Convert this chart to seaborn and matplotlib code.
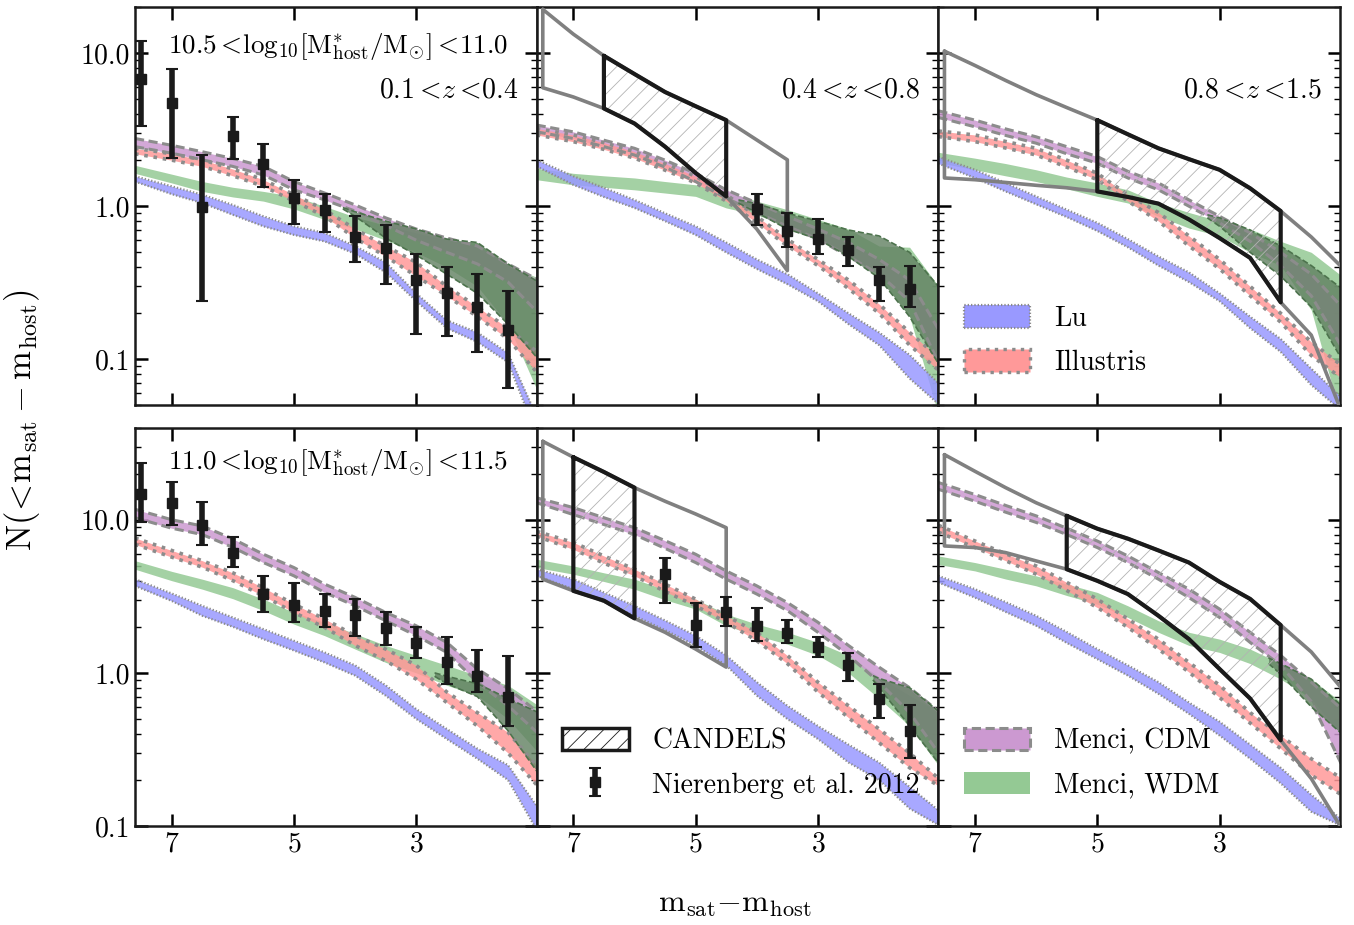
import numpy as np
import pandas as pd
import matplotlib
matplotlib.use('Agg')
import matplotlib.pyplot as plt
from matplotlib.patches import Patch
from matplotlib.ticker import FuncFormatter, NullFormatter
import seaborn as sns

# common grid of m_sat - m_host for the model bands
x_grid = [7.6, 7.0, 6.5, 6.0, 5.5, 5.0, 4.5, 4.0, 3.5, 3.0, 2.5, 2.0, 1.5, 1.0]

# ---- top row: 10.5 < log M* < 11.0 ----
# a: 0.1<z<0.4
lu_hi_a = [1.57, 1.35, 1.19, 1.02, 0.86, 0.74, 0.67, 0.55, 0.43, 0.27, 0.18, 0.15, 0.11, 0.04]
lu_lo_a = [1.45, 1.20, 1.05, 0.88, 0.74, 0.65, 0.59, 0.49, 0.37, 0.24, 0.16, 0.13, 0.096, 0.03]
ill_hi_a = [2.39, 2.20, 2.01, 1.75, 1.49, 1.19, 0.95, 0.71, 0.55, 0.43, 0.30, 0.22, 0.16, 0.11]
ill_lo_a = [2.20, 2.00, 1.82, 1.58, 1.35, 1.08, 0.86, 0.62, 0.47, 0.35, 0.26, 0.19, 0.136, 0.08]
cdm_hi_a = [2.77, 2.50, 2.27, 2.05, 1.82, 1.45, 1.22, 1.02, 0.84, 0.71, 0.62, 0.55, 0.42, 0.33]
cdm_lo_a = [2.45, 2.22, 2.01, 1.82, 1.60, 1.28, 1.10, 0.93, 0.75, 0.60, 0.50, 0.42, 0.32, 0.20]
wdm_hi_a = [1.85, 1.62, 1.45, 1.33, 1.25, 1.16, 1.00, 0.85, 0.75, 0.67, 0.60, 0.58, 0.41, 0.34]
wdm_lo_a = [1.64, 1.42, 1.25, 1.15, 1.08, 0.96, 0.82, 0.71, 0.60, 0.50, 0.40, 0.30, 0.17, 0.06]
dark_x_a = [4.2, 4.0, 3.5, 3.0, 2.5, 2.0, 1.5, 1.0]
dark_hi_a = [0.98, 0.92, 0.80, 0.71, 0.61, 0.58, 0.42, 0.32]
dark_lo_a = [0.96, 0.86, 0.62, 0.48, 0.36, 0.27, 0.17, 0.10]
nier_x_a = [7.5, 7.0, 6.5, 6.0, 5.5, 5.0, 4.5, 4.0, 3.5, 3.0, 2.5, 2.0, 1.5]
nier_y_a = [6.8, 4.73, 0.99, 2.87, 1.89, 1.13, 0.94, 0.63, 0.53, 0.33, 0.27, 0.22, 0.156]
nier_hi_a = [12.0, 7.9, 2.16, 3.84, 2.54, 1.49, 1.21, 0.87, 0.75, 0.49, 0.40, 0.36, 0.28]
nier_lo_a = [3.33, 2.06, 0.24, 2.03, 1.33, 0.77, 0.68, 0.43, 0.31, 0.146, 0.142, 0.112, 0.065]

# b: 0.4<z<0.8
lu_hi_b = [2.01, 1.57, 1.32, 1.10, 0.90, 0.74, 0.58, 0.45, 0.36, 0.27, 0.20, 0.15, 0.107, 0.068]
lu_lo_b = [1.82, 1.38, 1.15, 0.975, 0.80, 0.65, 0.50, 0.39, 0.31, 0.24, 0.17, 0.124, 0.075, 0.05]
ill_hi_b = [3.22, 2.92, 2.60, 2.27, 1.90, 1.57, 1.19, 0.86, 0.61, 0.45, 0.33, 0.23, 0.15, 0.101]
ill_lo_b = [2.92, 2.64, 2.35, 2.06, 1.72, 1.42, 1.08, 0.78, 0.55, 0.41, 0.29, 0.20, 0.124, 0.083]
cdm_hi_b = [3.39, 3.06, 2.70, 2.39, 2.00, 1.64, 1.28, 1.05, 0.86, 0.71, 0.58, 0.45, 0.33, 0.15]
cdm_lo_b = [3.06, 2.77, 2.45, 2.16, 1.80, 1.45, 1.13, 0.91, 0.74, 0.61, 0.47, 0.36, 0.24, 0.09]
wdm_hi_b = [1.77, 1.64, 1.58, 1.53, 1.45, 1.38, 1.25, 1.08, 0.95, 0.82, 0.71, 0.55, 0.54, 0.29]
wdm_lo_b = [1.49, 1.38, 1.33, 1.28, 1.22, 1.16, 0.975, 0.88, 0.74, 0.61, 0.50, 0.35, 0.19, 0.04]
dark_x_b = [4.3, 4.0, 3.5, 3.0, 2.5, 2.0, 1.5, 1.0]
dark_hi_b = [1.10, 1.04, 0.90, 0.80, 0.70, 0.64, 0.50, 0.29]
dark_lo_b = [1.05, 0.91, 0.71, 0.61, 0.47, 0.34, 0.19, 0.09]
nier_x_b = [4.0, 3.5, 3.0, 2.5, 2.0, 1.5]
nier_y_b = [0.96, 0.69, 0.61, 0.52, 0.33, 0.29]
nier_hi_b = [1.20, 0.91, 0.82, 0.63, 0.40, 0.41]
nier_lo_b = [0.75, 0.54, 0.49, 0.41, 0.24, 0.22]
cand_x_b = [7.5, 7.0, 6.5, 6.0, 5.5, 5.0, 4.5, 4.0, 3.5]
cand_hi_b = [19.3, 13.3, 9.6, 7.3, 5.57, 4.5, 3.65, 2.71, 2.01]
cand_lo_b = [5.94, 5.17, 4.35, 3.47, 2.45, 1.65, 1.16, 0.71, 0.38]
cand_hatch_b = (6.5, 4.5)

# c: 0.8<z<1.5
lu_hi_c = [2.10, 1.73, 1.42, 1.16, 0.95, 0.78, 0.61, 0.47, 0.37, 0.27, 0.19, 0.136, 0.087, 0.056]
lu_lo_c = [1.90, 1.53, 1.25, 1.03, 0.85, 0.69, 0.54, 0.41, 0.32, 0.24, 0.16, 0.112, 0.068, 0.046]
ill_hi_c = [3.10, 2.92, 2.65, 2.39, 2.00, 1.64, 1.19, 0.91, 0.64, 0.45, 0.30, 0.20, 0.13, 0.091]
ill_lo_c = [2.85, 2.64, 2.40, 2.16, 1.80, 1.49, 1.08, 0.80, 0.55, 0.39, 0.26, 0.175, 0.106, 0.075]
cdm_hi_c = [4.20, 3.65, 3.20, 2.84, 2.45, 2.11, 1.69, 1.42, 1.10, 0.86, 0.67, 0.50, 0.36, 0.22]
cdm_lo_c = [3.80, 3.30, 2.90, 2.58, 2.20, 1.91, 1.53, 1.28, 1.00, 0.78, 0.59, 0.41, 0.26, 0.12]
wdm_hi_c = [2.25, 2.06, 1.90, 1.73, 1.55, 1.42, 1.28, 1.05, 0.91, 0.80, 0.71, 0.59, 0.50, 0.35]
wdm_lo_c = [1.93, 1.73, 1.58, 1.45, 1.30, 1.16, 1.05, 0.86, 0.72, 0.64, 0.50, 0.41, 0.21, 0.04]
dark_x_c = [3.2, 3.0, 2.5, 2.0, 1.5, 1.0]
dark_hi_c = [0.88, 0.84, 0.70, 0.55, 0.41, 0.29]
dark_lo_c = [0.84, 0.74, 0.50, 0.35, 0.22, 0.10]
cand_x_c = [7.5, 7.0, 6.5, 6.0, 5.5, 5.0, 4.5, 4.0, 3.5, 3.0, 2.5, 2.0, 1.5, 1.0]
cand_hi_c = [10.3, 8.3, 6.63, 5.35, 4.41, 3.65, 2.95, 2.39, 2.03, 1.73, 1.31, 0.93, 0.63, 0.40]
cand_lo_c = [1.53, 1.49, 1.43, 1.37, 1.32, 1.25, 1.15, 1.04, 0.82, 0.62, 0.46, 0.236, 0.144, 0.045]
cand_hatch_c = (5.0, 2.0)

# ---- bottom row: 11.0 < log M* < 11.5 ----
# d: 0.1<z<0.4
lu_hi_d = [4.09, 3.30, 2.74, 2.30, 1.93, 1.62, 1.36, 1.12, 0.83, 0.58, 0.43, 0.32, 0.25, 0.13]
lu_lo_d = [3.70, 2.95, 2.36, 2.00, 1.66, 1.40, 1.17, 0.96, 0.71, 0.50, 0.37, 0.275, 0.20, 0.09]
ill_hi_d = [7.6, 6.3, 5.4, 4.5, 3.6, 2.81, 2.25, 1.75, 1.43, 1.12, 0.75, 0.55, 0.41, 0.24]
ill_lo_d = [6.9, 5.7, 4.9, 4.0, 3.18, 2.48, 1.98, 1.51, 1.20, 0.91, 0.64, 0.45, 0.30, 0.18]
cdm_hi_d = [11.7, 10.0, 9.1, 7.5, 5.95, 4.87, 3.80, 3.11, 2.48, 2.03, 1.58, 1.06, 0.79, 0.55]
cdm_lo_d = [10.3, 8.8, 8.0, 6.6, 5.25, 4.30, 3.35, 2.74, 2.19, 1.75, 1.36, 0.87, 0.61, 0.40]
wdm_hi_d = [5.4, 4.6, 4.09, 3.6, 3.03, 2.48, 2.14, 1.80, 1.51, 1.30, 1.12, 0.96, 0.83, 0.61]
wdm_lo_d = [4.75, 4.0, 3.52, 3.05, 2.55, 2.08, 1.75, 1.43, 1.17, 1.00, 0.83, 0.71, 0.50, 0.30]
dark_x_d = [2.7, 2.5, 2.0, 1.5, 1.0]
dark_hi_d = [1.00, 0.95, 0.85, 0.68, 0.55]
dark_lo_d = [0.95, 0.85, 0.70, 0.42, 0.22]
nier_x_d = [7.5, 7.0, 6.5, 6.0, 5.5, 5.0, 4.5, 4.0, 3.5, 3.0, 2.5, 2.0, 1.5]
nier_y_d = [14.8, 12.8, 9.3, 6.04, 3.27, 2.77, 2.55, 2.38, 1.95, 1.57, 1.17, 0.96, 0.70]
nier_hi_d = [23.5, 17.6, 13.0, 7.7, 4.3, 3.85, 3.27, 3.03, 2.48, 1.98, 1.71, 1.41, 1.28]
nier_lo_d = [9.66, 9.2, 6.8, 4.92, 2.51, 2.14, 1.98, 1.73, 1.52, 1.25, 0.84, 0.75, 0.45]

# e: 0.4<z<0.8
lu_hi_e = [4.75, 4.09, 3.35, 2.74, 2.20, 1.75, 1.30, 0.87, 0.61, 0.45, 0.34, 0.26, 0.18, 0.124]
lu_lo_e = [4.30, 3.52, 2.90, 2.36, 1.90, 1.51, 1.12, 0.71, 0.50, 0.37, 0.26, 0.20, 0.13, 0.10]
ill_hi_e = [8.4, 7.1, 5.8, 4.75, 3.8, 3.03, 2.36, 1.84, 1.30, 0.87, 0.61, 0.43, 0.30, 0.20]
ill_lo_e = [7.8, 6.4, 5.2, 4.3, 3.4, 2.74, 2.14, 1.62, 1.15, 0.75, 0.51, 0.35, 0.24, 0.18]
cdm_hi_e = [13.9, 12.0, 10.3, 8.87, 7.3, 5.95, 4.63, 3.70, 2.88, 2.14, 1.51, 1.09, 0.80, 0.55]
cdm_lo_e = [12.9, 10.8, 9.3, 8.0, 6.5, 5.25, 4.09, 3.27, 2.55, 1.84, 1.30, 0.87, 0.55, 0.29]
wdm_hi_e = [5.52, 4.99, 4.5, 4.09, 3.5, 3.03, 2.42, 2.08, 1.84, 1.58, 1.30, 0.94, 0.71, 0.55]
wdm_lo_e = [4.87, 4.41, 3.95, 3.52, 3.0, 2.61, 2.03, 1.75, 1.54, 1.30, 1.00, 0.68, 0.45, 0.24]
dark_x_e = [2.1, 2.0, 1.5, 1.0]
dark_hi_e = [0.96, 0.92, 0.80, 0.55]
dark_lo_e = [0.90, 0.80, 0.45, 0.25]
nier_x_e = [5.5, 5.0, 4.5, 4.0, 3.5, 3.0, 2.5, 2.0, 1.5]
nier_y_e = [4.41, 2.05, 2.51, 2.01, 1.82, 1.47, 1.12, 0.68, 0.42]
nier_hi_e = [5.66, 2.84, 3.15, 2.64, 2.22, 1.71, 1.34, 0.84, 0.62]
nier_lo_e = [2.86, 1.47, 2.03, 1.62, 1.57, 1.26, 0.88, 0.51, 0.28]
cand_x_e = [7.5, 7.0, 6.5, 6.0, 5.5, 5.0, 4.5]
cand_hi_e = [32.5, 25.6, 20.5, 16.2, 13.2, 10.9, 8.87]
cand_lo_e = [4.09, 3.43, 2.96, 2.27, 1.84, 1.43, 1.09]
cand_hatch_e = (7.0, 6.0)

# f: 0.8<z<1.5
lu_hi_f = [4.30, 3.52, 2.90, 2.36, 1.85, 1.43, 1.12, 0.87, 0.64, 0.48, 0.34, 0.24, 0.16, 0.11]
lu_lo_f = [3.90, 3.10, 2.50, 2.03, 1.57, 1.23, 0.96, 0.73, 0.54, 0.39, 0.275, 0.19, 0.124, 0.10]
ill_hi_f = [9.2, 7.26, 6.0, 4.99, 3.9, 3.03, 2.25, 1.66, 1.17, 0.83, 0.55, 0.39, 0.275, 0.204]
ill_lo_f = [8.3, 6.58, 5.4, 4.41, 3.45, 2.67, 1.98, 1.43, 1.01, 0.69, 0.47, 0.32, 0.215, 0.159]
cdm_hi_f = [17.5, 14.6, 12.4, 10.6, 8.8, 7.26, 5.8, 4.52, 3.52, 2.61, 1.84, 1.30, 0.87, 0.58]
cdm_lo_f = [15.8, 13.2, 11.2, 9.6, 8.0, 6.58, 5.25, 4.09, 3.10, 2.30, 1.58, 1.12, 0.65, 0.25]
wdm_hi_f = [5.8, 5.25, 4.75, 4.3, 3.8, 3.35, 2.74, 2.19, 1.84, 1.66, 1.43, 1.15, 0.91, 0.64]
wdm_lo_f = [5.1, 4.63, 4.1, 3.7, 3.2, 2.81, 2.30, 1.84, 1.51, 1.36, 1.15, 0.91, 0.68, 0.39]
dark_x_f = [2.2, 2.0, 1.5, 1.0]
dark_hi_f = [1.25, 1.15, 0.91, 0.61]
dark_lo_f = [1.15, 0.98, 0.60, 0.40]
cand_x_f = [7.5, 7.0, 6.5, 6.0, 5.5, 5.0, 4.5, 4.0, 3.5, 3.0, 2.5, 2.0, 1.5, 1.0]
cand_hi_f = [26.6, 20.7, 16.2, 12.9, 10.6, 8.74, 7.52, 6.3, 5.25, 3.93, 3.04, 2.05, 1.37, 0.79]
cand_lo_f = [6.74, 6.58, 6.1, 5.38, 4.75, 3.99, 3.27, 2.36, 1.66, 1.06, 0.68, 0.363, 0.204, 0.096]
cand_hatch_f = (5.5, 2.0)

z_labels = [r'$0.1<\!z<\!0.4$', r'$0.4<\!z<\!0.8$', r'$0.8<\!z<\!1.5$']
mass_labels = [r'$10.5<\!\mathrm{log}_{10}[\mathrm{M}^{*}_{\mathrm{host}}/\mathrm{M}_{\odot}]<\!11.0$',
               r'$11.0<\!\mathrm{log}_{10}[\mathrm{M}^{*}_{\mathrm{host}}/\mathrm{M}_{\odot}]<\!11.5$']

sns.set_theme(style='ticks')
plt.rcParams['font.family'] = ['cmr10', 'DejaVu Serif']
plt.rcParams['mathtext.fontset'] = 'cm'
plt.rcParams['axes.formatter.use_mathtext'] = True
plt.rcParams['hatch.linewidth'] = 0.6
for key in ['text.color', 'axes.labelcolor', 'xtick.color', 'ytick.color', 'axes.edgecolor']:
    plt.rcParams[key] = 'black'

c_lu = (0.6, 0.6, 1.0)
c_ill = (1.0, 0.6, 0.6)
c_cdm = (0.8, 0.6, 0.82)
c_wdm = (0.58, 0.79, 0.58)
c_dark = (0.38, 0.5, 0.38)
edge = '0.55'
ls_lu = (0, (0.6, 0.9))
ls_ill = (0, (1, 1.6))
ls_cdm = (0, (3, 1.5))

panels = [
    dict(lu=(lu_hi_a, lu_lo_a), ill=(ill_hi_a, ill_lo_a), cdm=(cdm_hi_a, cdm_lo_a),
         wdm=(wdm_hi_a, wdm_lo_a), dark=(dark_x_a, dark_hi_a, dark_lo_a),
         nier=(nier_x_a, nier_y_a, nier_hi_a, nier_lo_a), cand=None),
    dict(lu=(lu_hi_b, lu_lo_b), ill=(ill_hi_b, ill_lo_b), cdm=(cdm_hi_b, cdm_lo_b),
         wdm=(wdm_hi_b, wdm_lo_b), dark=(dark_x_b, dark_hi_b, dark_lo_b),
         nier=(nier_x_b, nier_y_b, nier_hi_b, nier_lo_b),
         cand=(cand_x_b, cand_hi_b, cand_lo_b, cand_hatch_b)),
    dict(lu=(lu_hi_c, lu_lo_c), ill=(ill_hi_c, ill_lo_c), cdm=(cdm_hi_c, cdm_lo_c),
         wdm=(wdm_hi_c, wdm_lo_c), dark=(dark_x_c, dark_hi_c, dark_lo_c),
         nier=None, cand=(cand_x_c, cand_hi_c, cand_lo_c, cand_hatch_c)),
    dict(lu=(lu_hi_d, lu_lo_d), ill=(ill_hi_d, ill_lo_d), cdm=(cdm_hi_d, cdm_lo_d),
         wdm=(wdm_hi_d, wdm_lo_d), dark=(dark_x_d, dark_hi_d, dark_lo_d),
         nier=(nier_x_d, nier_y_d, nier_hi_d, nier_lo_d), cand=None),
    dict(lu=(lu_hi_e, lu_lo_e), ill=(ill_hi_e, ill_lo_e), cdm=(cdm_hi_e, cdm_lo_e),
         wdm=(wdm_hi_e, wdm_lo_e), dark=(dark_x_e, dark_hi_e, dark_lo_e),
         nier=(nier_x_e, nier_y_e, nier_hi_e, nier_lo_e),
         cand=(cand_x_e, cand_hi_e, cand_lo_e, cand_hatch_e)),
    dict(lu=(lu_hi_f, lu_lo_f), ill=(ill_hi_f, ill_lo_f), cdm=(cdm_hi_f, cdm_lo_f),
         wdm=(wdm_hi_f, wdm_lo_f), dark=(dark_x_f, dark_hi_f, dark_lo_f),
         nier=None, cand=(cand_x_f, cand_hi_f, cand_lo_f, cand_hatch_f)),
]


def band(ax, hi, lo, color, ls=None, lw=1.5):
    ax.fill_between(x_grid, lo, hi, color=color, lw=0, alpha=0.85)
    if ls is not None:
        ax.plot(x_grid, hi, color=edge, ls=ls, lw=lw)
        ax.plot(x_grid, lo, color=edge, ls=ls, lw=lw)


def candels(ax, x, hi, lo, rng):
    x = np.asarray(x)
    hi = np.asarray(hi)
    lo = np.asarray(lo)
    ax.plot(np.r_[x, x[::-1], x[:1]], np.r_[hi, lo[::-1], hi[:1]], color='0.5', lw=2.6, zorder=5)
    m = (x <= rng[0]) & (x >= rng[1])
    xs, h, l = x[m], hi[m], lo[m]
    ax.fill_between(xs, l, h, facecolor='none', edgecolor='0.7', hatch='//', lw=0, zorder=5)
    ax.plot(np.r_[xs, xs[::-1], xs[:1]], np.r_[h, l[::-1], h[:1]], color='k', lw=3, zorder=6)


fig, axes = plt.subplots(2, 3, figsize=(13.54, 9.25), dpi=100, sharex=True, sharey='row')
fig.subplots_adjust(left=135 / 1354, right=1340 / 1354, top=1 - 7 / 925, bottom=1 - 826 / 925,
                    wspace=0, hspace=22 / 398)

nier_handle = None
for i, (ax, p) in enumerate(zip(axes.flat, panels)):
    band(ax, *p['wdm'], c_wdm)
    band(ax, *p['cdm'], c_cdm, ls_cdm, 2.2)
    band(ax, *p['ill'], c_ill, ls_ill, 2.6)
    band(ax, *p['lu'], c_lu, ls_lu, 1.6)
    dx, dh, dl = p['dark']
    ax.fill_between(dx, dl, dh, color=c_dark, lw=0, alpha=0.8)
    ax.plot(dx, dh, color=(0.3, 0.45, 0.3), ls='--', lw=1.2)
    ax.plot(dx, dl, color=(0.3, 0.45, 0.3), ls='--', lw=1.2)
    if p['cand'] is not None:
        candels(ax, *p['cand'])
    if p['nier'] is not None:
        nx, ny, nh, nl = (np.asarray(v) for v in p['nier'])
        eb = ax.errorbar(nx, ny, yerr=[ny - nl, nh - ny], fmt='s', color='k', ms=7.5,
                         elinewidth=4, capsize=4, capthick=1.5, zorder=8)
        if i == 4:
            nier_handle = eb

    ax.set_yscale('log')
    ax.set_xlim(7.6, 1.03)
    ax.set_xticks([7, 5, 3])
    ax.tick_params(which='both', direction='in', top=True, right=True, labelsize=20)
    ax.tick_params(which='major', length=9, width=1.8)
    ax.tick_params(which='minor', length=4.5, width=1.0)
    for s in ax.spines.values():
        s.set_linewidth(1.8)
        s.set_color('k')
    ax.yaxis.set_major_formatter(FuncFormatter(lambda v, pos: '%.1f' % v))
    ax.yaxis.set_minor_formatter(NullFormatter())
    if i < 3:
        ax.text(0.955, 0.79, z_labels[i], transform=ax.transAxes, ha='right', va='center',
                fontsize=20)

axes[0, 0].set_ylim(0.05, 20)
axes[1, 0].set_ylim(0.1, 40)
axes[0, 0].text(0.082, 0.9, mass_labels[0], transform=axes[0, 0].transAxes, fontsize=19.5,
                ha='left', va='center')
axes[1, 0].text(0.082, 0.912, mass_labels[1], transform=axes[1, 0].transAxes, fontsize=19.5,
                ha='left', va='center')

leg_kw = dict(frameon=False, fontsize=20, handlelength=2.4, handleheight=0.85,
              handletextpad=0.85, labelspacing=0.62, loc='lower left', borderaxespad=0.3)
h_lu = Patch(facecolor=c_lu, edgecolor=edge, linestyle=ls_lu, lw=1.6)
h_ill = Patch(facecolor=c_ill, edgecolor=edge, linestyle=ls_ill, lw=2.4)
axes[0, 2].legend([h_lu, h_ill], ['Lu', 'Illustris'], bbox_to_anchor=(0.015, 0.025), **leg_kw)
h_cand = Patch(facecolor='white', edgecolor='k', hatch='//', lw=2.5)
axes[1, 1].legend([h_cand, nier_handle], ['CANDELS', 'Nierenberg et al. 2012'],
                  bbox_to_anchor=(0.015, 0.02), **leg_kw)
h_cdm = Patch(facecolor=c_cdm, edgecolor=edge, linestyle=ls_cdm, lw=2.2)
h_wdm = Patch(facecolor=c_wdm, edgecolor='none')
axes[1, 2].legend([h_cdm, h_wdm], ['Menci, CDM', 'Menci, WDM'],
                  bbox_to_anchor=(0.015, 0.02), **leg_kw)

fig.text(22 / 1354, 1 - 420 / 925, r'$\mathrm{N(}\!<\!\mathrm{m_{sat}-m_{host})}$',
         rotation=90, ha='center', va='center', fontsize=25)
fig.text(735 / 1354, 1 - 905 / 925, r'$\mathrm{m_{sat}}{-}\mathrm{m_{host}}$', ha='center',
         va='center', fontsize=23)

fig.savefig('out.png', dpi=100)
